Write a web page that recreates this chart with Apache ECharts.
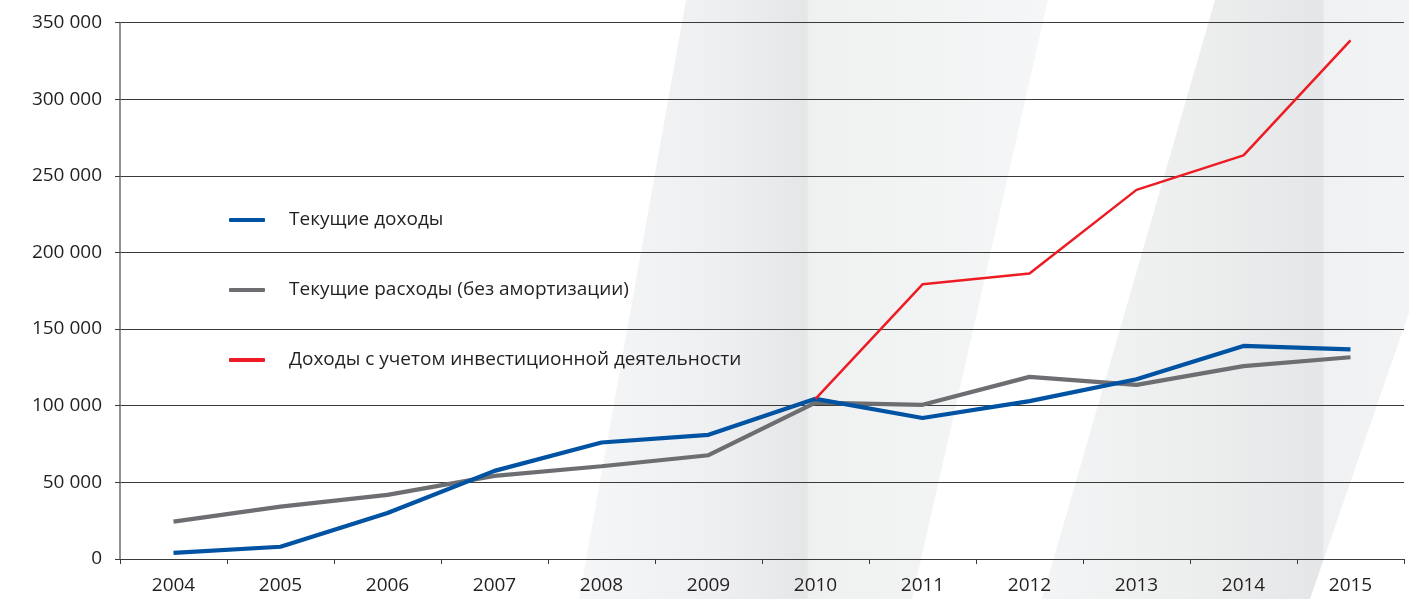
<!DOCTYPE html>
<html>
<head>
<meta charset="utf-8">
<script src="https://cdn.jsdelivr.net/npm/echarts@6/dist/echarts.min.js"></script>
<style>
html,body{margin:0;padding:0;background:#fff;}
#chart{width:1409px;height:599px;}
</style>
</head>
<body>
<div id="chart"></div>
<script>
const years = ['2004','2005','2006','2007','2008','2009','2010','2011','2012','2013','2014','2015'];
const currentIncome = [4000, 8000, 30000, 57500, 76000, 81000, 104500, 92000, 103000, 117300, 139000, 136800];
const currentExpenses = [24400, 34200, 41800, 54200, 60500, 67700, 102000, 100600, 118800, 113600, 125800, 131600];
const investIncome = [null, null, null, null, null, null, 104500, 179200, 186200, 240800, 263300, 338300];
const yTickLabels = ['0','50 000','100 000','150 000','200 000','250 000','300 000','350 000'];
const seriesNames = ['Текущие доходы','Текущие расходы (без амортизации)','Доходы с учетом инвестиционной деятельности'];

const FONT = 'Open Sans';
const TXT = '#231f20';

const chart = echarts.init(document.getElementById('chart'), null, {renderer:'canvas'});

function stripe(points, x0, x1, stops){
  return {
    type:'polygon', z:-100, silent:true,
    shape:{points: points},
    style:{fill: new echarts.graphic.LinearGradient(x0,0,x1,0,stops,true)}
  };
}

chart.setOption({
  animation:false,
  backgroundColor:'#ffffff',
  graphic:[
    stripe([[686,0],[1048,0],[912,599],[579,599]], 579, 1048, [
      {offset:0, color:'#f5f6f7'},
      {offset:0.3, color:'#eeeff0'},
      {offset:0.486, color:'#e5e6e8'},
      {offset:0.49, color:'#eff1f1'},
      {offset:1, color:'#f5f6f7'}
    ]),
    stripe([[1215,0],[1517,0],[1310,599],[1042,599]], 1042, 1517, [
      {offset:0, color:'#f3f4f5'},
      {offset:0.35, color:'#eceded'},
      {offset:0.59, color:'#e5e6e8'},
      {offset:0.595, color:'#f0f1f2'},
      {offset:1, color:'#f5f6f7'}
    ])
  ],
  grid:{left:120, right:5, top:22.5, bottom:40, containLabel:false},
  legend:{
    orient:'vertical', left:224, top:205,
    itemWidth:36, itemHeight:4, itemGap:50,
    icon:'roundRect',
    data: seriesNames,
    textStyle:{fontFamily:FONT, fontSize:19, color:TXT, lineHeight:20, padding:[0,0,0,19]}
  },
  xAxis:{
    type:'category', data:years, boundaryGap:true,
    axisLine:{lineStyle:{color:'#3a3a3a', width:1}},
    axisTick:{show:true, length:5, lineStyle:{color:'#3a3a3a'}},
    axisLabel:{fontFamily:FONT, fontSize:19, color:TXT, margin:17}
  },
  yAxis:{
    type:'value', min:0, max:350000, interval:50000,
    axisLine:{show:true, lineStyle:{color:'#6d6e71', width:1.5}},
    axisTick:{show:true, length:5, lineStyle:{color:'#3a3a3a'}},
    splitLine:{show:true, lineStyle:{color:'#3a3a3a', width:1}},
    axisLabel:{fontFamily:FONT, fontSize:19, color:TXT, margin:18,
      formatter: v => yTickLabels[Math.round(v/50000)]}
  },
  series:[
    {name:seriesNames[0], type:'line', data:currentIncome, color:'#0052a3',
     showSymbol:false, symbol:'none', lineStyle:{width:4.2, color:'#0052a3'}, z:4},
    {name:seriesNames[1], type:'line', data:currentExpenses, color:'#6d6e71',
     showSymbol:false, symbol:'none', lineStyle:{width:4.2, color:'#6d6e71'}, z:3},
    {name:seriesNames[2], type:'line', data:investIncome, color:'#ed1c24',
     showSymbol:false, symbol:'none', lineStyle:{width:2.5, color:'#ed1c24'}, z:5}
  ]
});
</script>
</body>
</html>
